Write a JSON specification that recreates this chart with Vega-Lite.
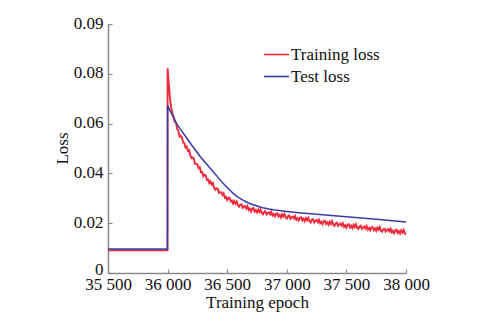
{
  "$schema": "https://vega.github.io/schema/vega-lite/v6.json",
  "width": 298,
  "height": 249,
  "autosize": {"type": "none"},
  "padding": {"left": 108, "top": 24, "right": 83, "bottom": 41},
  "background": "white",
  "config": {
    "view": {"stroke": null},
    "font": "Liberation Serif",
    "axis": {
      "grid": false,
      "domainColor": "#8a8a8a",
      "domainWidth": 1.5,
      "tickColor": "#8a8a8a",
      "tickWidth": 1.2,
      "labelFont": "Liberation Serif",
      "labelFontSize": 17,
      "labelColor": "#111111",
      "labelOverlap": false,
      "labelFlush": false,
      "titleFont": "Liberation Serif",
      "titleFontSize": 17,
      "titleFontWeight": "normal",
      "titleColor": "#111111"
    }
  },
  "datasets": {
    "train": [
      {"epoch": 35500, "loss": 0.0091},
      {"epoch": 35999, "loss": 0.0091},
      {"epoch": 36000, "loss": 0.0822},
      {"epoch": 36010, "loss": 0.0760},
      {"epoch": 36020, "loss": 0.0700},
      {"epoch": 36030, "loss": 0.0665},
      {"epoch": 36040, "loss": 0.0640},
      {"epoch": 36050, "loss": 0.0627},
      {"epoch": 36060, "loss": 0.0607},
      {"epoch": 36070, "loss": 0.0605},
      {"epoch": 36080, "loss": 0.0579},
      {"epoch": 36090, "loss": 0.0571},
      {"epoch": 36100, "loss": 0.0548},
      {"epoch": 36110, "loss": 0.0551},
      {"epoch": 36120, "loss": 0.0545},
      {"epoch": 36130, "loss": 0.0524},
      {"epoch": 36140, "loss": 0.0522},
      {"epoch": 36150, "loss": 0.0504},
      {"epoch": 36160, "loss": 0.0508},
      {"epoch": 36170, "loss": 0.0491},
      {"epoch": 36180, "loss": 0.0494},
      {"epoch": 36190, "loss": 0.0473},
      {"epoch": 36200, "loss": 0.0461},
      {"epoch": 36210, "loss": 0.0464},
      {"epoch": 36220, "loss": 0.0459},
      {"epoch": 36230, "loss": 0.0439},
      {"epoch": 36240, "loss": 0.0439},
      {"epoch": 36250, "loss": 0.0436},
      {"epoch": 36260, "loss": 0.0421},
      {"epoch": 36270, "loss": 0.0425},
      {"epoch": 36280, "loss": 0.0404},
      {"epoch": 36290, "loss": 0.0405},
      {"epoch": 36300, "loss": 0.0389},
      {"epoch": 36310, "loss": 0.0395},
      {"epoch": 36320, "loss": 0.0392},
      {"epoch": 36330, "loss": 0.0374},
      {"epoch": 36340, "loss": 0.0375},
      {"epoch": 36350, "loss": 0.0361},
      {"epoch": 36360, "loss": 0.0368},
      {"epoch": 36370, "loss": 0.0355},
      {"epoch": 36380, "loss": 0.0361},
      {"epoch": 36390, "loss": 0.0343},
      {"epoch": 36400, "loss": 0.0334},
      {"epoch": 36410, "loss": 0.0340},
      {"epoch": 36420, "loss": 0.0339},
      {"epoch": 36430, "loss": 0.0322},
      {"epoch": 36440, "loss": 0.0325},
      {"epoch": 36450, "loss": 0.0325},
      {"epoch": 36460, "loss": 0.0313},
      {"epoch": 36470, "loss": 0.0320},
      {"epoch": 36480, "loss": 0.0302},
      {"epoch": 36490, "loss": 0.0306},
      {"epoch": 36500, "loss": 0.0293},
      {"epoch": 36510, "loss": 0.0302},
      {"epoch": 36520, "loss": 0.0302},
      {"epoch": 36530, "loss": 0.0287},
      {"epoch": 36540, "loss": 0.0291},
      {"epoch": 36550, "loss": 0.0279},
      {"epoch": 36560, "loss": 0.0289},
      {"epoch": 36570, "loss": 0.0279},
      {"epoch": 36580, "loss": 0.0287},
      {"epoch": 36590, "loss": 0.0272},
      {"epoch": 36600, "loss": 0.0266},
      {"epoch": 36610, "loss": 0.0275},
      {"epoch": 36620, "loss": 0.0276},
      {"epoch": 36630, "loss": 0.0262},
      {"epoch": 36640, "loss": 0.0267},
      {"epoch": 36650, "loss": 0.0269},
      {"epoch": 36660, "loss": 0.0259},
      {"epoch": 36670, "loss": 0.0269},
      {"epoch": 36680, "loss": 0.0253},
      {"epoch": 36690, "loss": 0.0259},
      {"epoch": 36700, "loss": 0.0248},
      {"epoch": 36710, "loss": 0.0259},
      {"epoch": 36720, "loss": 0.0261},
      {"epoch": 36730, "loss": 0.0247},
      {"epoch": 36740, "loss": 0.0253},
      {"epoch": 36750, "loss": 0.0243},
      {"epoch": 36760, "loss": 0.0255},
      {"epoch": 36770, "loss": 0.0245},
      {"epoch": 36780, "loss": 0.0255},
      {"epoch": 36790, "loss": 0.0241},
      {"epoch": 36800, "loss": 0.0236},
      {"epoch": 36810, "loss": 0.0246},
      {"epoch": 36820, "loss": 0.0248},
      {"epoch": 36830, "loss": 0.0235},
      {"epoch": 36840, "loss": 0.0241},
      {"epoch": 36850, "loss": 0.0244},
      {"epoch": 36860, "loss": 0.0236},
      {"epoch": 36870, "loss": 0.0246},
      {"epoch": 36880, "loss": 0.0231},
      {"epoch": 36890, "loss": 0.0237},
      {"epoch": 36900, "loss": 0.0227},
      {"epoch": 36910, "loss": 0.0238},
      {"epoch": 36920, "loss": 0.0240},
      {"epoch": 36930, "loss": 0.0227},
      {"epoch": 36940, "loss": 0.0233},
      {"epoch": 36950, "loss": 0.0223},
      {"epoch": 36960, "loss": 0.0236},
      {"epoch": 36970, "loss": 0.0227},
      {"epoch": 36980, "loss": 0.0237},
      {"epoch": 36990, "loss": 0.0223},
      {"epoch": 37000, "loss": 0.0218},
      {"epoch": 37010, "loss": 0.0228},
      {"epoch": 37020, "loss": 0.0231},
      {"epoch": 37030, "loss": 0.0218},
      {"epoch": 37040, "loss": 0.0224},
      {"epoch": 37050, "loss": 0.0227},
      {"epoch": 37060, "loss": 0.0219},
      {"epoch": 37070, "loss": 0.0229},
      {"epoch": 37080, "loss": 0.0214},
      {"epoch": 37090, "loss": 0.0220},
      {"epoch": 37100, "loss": 0.0211},
      {"epoch": 37110, "loss": 0.0222},
      {"epoch": 37120, "loss": 0.0224},
      {"epoch": 37130, "loss": 0.0211},
      {"epoch": 37140, "loss": 0.0218},
      {"epoch": 37150, "loss": 0.0208},
      {"epoch": 37160, "loss": 0.0220},
      {"epoch": 37170, "loss": 0.0212},
      {"epoch": 37180, "loss": 0.0222},
      {"epoch": 37190, "loss": 0.0208},
      {"epoch": 37200, "loss": 0.0203},
      {"epoch": 37210, "loss": 0.0214},
      {"epoch": 37220, "loss": 0.0216},
      {"epoch": 37230, "loss": 0.0203},
      {"epoch": 37240, "loss": 0.0210},
      {"epoch": 37250, "loss": 0.0213},
      {"epoch": 37260, "loss": 0.0204},
      {"epoch": 37270, "loss": 0.0214},
      {"epoch": 37280, "loss": 0.0200},
      {"epoch": 37290, "loss": 0.0206},
      {"epoch": 37300, "loss": 0.0196},
      {"epoch": 37310, "loss": 0.0208},
      {"epoch": 37320, "loss": 0.0210},
      {"epoch": 37330, "loss": 0.0197},
      {"epoch": 37340, "loss": 0.0203},
      {"epoch": 37350, "loss": 0.0194},
      {"epoch": 37360, "loss": 0.0206},
      {"epoch": 37370, "loss": 0.0197},
      {"epoch": 37380, "loss": 0.0208},
      {"epoch": 37390, "loss": 0.0194},
      {"epoch": 37400, "loss": 0.0189},
      {"epoch": 37410, "loss": 0.0199},
      {"epoch": 37420, "loss": 0.0202},
      {"epoch": 37430, "loss": 0.0189},
      {"epoch": 37440, "loss": 0.0195},
      {"epoch": 37450, "loss": 0.0199},
      {"epoch": 37460, "loss": 0.0190},
      {"epoch": 37470, "loss": 0.0200},
      {"epoch": 37480, "loss": 0.0185},
      {"epoch": 37490, "loss": 0.0192},
      {"epoch": 37500, "loss": 0.0182},
      {"epoch": 37510, "loss": 0.0193},
      {"epoch": 37520, "loss": 0.0196},
      {"epoch": 37530, "loss": 0.0183},
      {"epoch": 37540, "loss": 0.0190},
      {"epoch": 37550, "loss": 0.0180},
      {"epoch": 37560, "loss": 0.0193},
      {"epoch": 37570, "loss": 0.0184},
      {"epoch": 37580, "loss": 0.0195},
      {"epoch": 37590, "loss": 0.0181},
      {"epoch": 37600, "loss": 0.0177},
      {"epoch": 37610, "loss": 0.0187},
      {"epoch": 37620, "loss": 0.0190},
      {"epoch": 37630, "loss": 0.0177},
      {"epoch": 37640, "loss": 0.0183},
      {"epoch": 37650, "loss": 0.0187},
      {"epoch": 37660, "loss": 0.0178},
      {"epoch": 37670, "loss": 0.0189},
      {"epoch": 37680, "loss": 0.0174},
      {"epoch": 37690, "loss": 0.0181},
      {"epoch": 37700, "loss": 0.0171},
      {"epoch": 37710, "loss": 0.0183},
      {"epoch": 37720, "loss": 0.0185},
      {"epoch": 37730, "loss": 0.0172},
      {"epoch": 37740, "loss": 0.0179},
      {"epoch": 37750, "loss": 0.0169},
      {"epoch": 37760, "loss": 0.0182},
      {"epoch": 37770, "loss": 0.0173},
      {"epoch": 37780, "loss": 0.0184},
      {"epoch": 37790, "loss": 0.0170},
      {"epoch": 37800, "loss": 0.0166},
      {"epoch": 37810, "loss": 0.0176},
      {"epoch": 37820, "loss": 0.0178},
      {"epoch": 37830, "loss": 0.0166},
      {"epoch": 37840, "loss": 0.0172},
      {"epoch": 37850, "loss": 0.0176},
      {"epoch": 37860, "loss": 0.0167},
      {"epoch": 37870, "loss": 0.0178},
      {"epoch": 37880, "loss": 0.0163},
      {"epoch": 37890, "loss": 0.0170},
      {"epoch": 37900, "loss": 0.0160},
      {"epoch": 37910, "loss": 0.0171},
      {"epoch": 37920, "loss": 0.0174},
      {"epoch": 37930, "loss": 0.0161},
      {"epoch": 37940, "loss": 0.0168},
      {"epoch": 37950, "loss": 0.0158},
      {"epoch": 37960, "loss": 0.0171},
      {"epoch": 37970, "loss": 0.0162},
      {"epoch": 37980, "loss": 0.0173},
      {"epoch": 37990, "loss": 0.0159},
      {"epoch": 38000, "loss": 0.0155}
    ],
    "test": [
      {"epoch": 35500, "loss": 0.0096},
      {"epoch": 35999, "loss": 0.0096},
      {"epoch": 36000, "loss": 0.0672},
      {"epoch": 36025, "loss": 0.0648},
      {"epoch": 36050, "loss": 0.0625},
      {"epoch": 36075, "loss": 0.0600},
      {"epoch": 36100, "loss": 0.0583},
      {"epoch": 36125, "loss": 0.0566},
      {"epoch": 36150, "loss": 0.0549},
      {"epoch": 36175, "loss": 0.0532},
      {"epoch": 36200, "loss": 0.0515},
      {"epoch": 36225, "loss": 0.0499},
      {"epoch": 36250, "loss": 0.0483},
      {"epoch": 36275, "loss": 0.0467},
      {"epoch": 36300, "loss": 0.0453},
      {"epoch": 36325, "loss": 0.0439},
      {"epoch": 36350, "loss": 0.0425},
      {"epoch": 36375, "loss": 0.0411},
      {"epoch": 36400, "loss": 0.0397},
      {"epoch": 36425, "loss": 0.0383},
      {"epoch": 36450, "loss": 0.0369},
      {"epoch": 36475, "loss": 0.0355},
      {"epoch": 36500, "loss": 0.0343},
      {"epoch": 36525, "loss": 0.0331},
      {"epoch": 36550, "loss": 0.0320},
      {"epoch": 36575, "loss": 0.0310},
      {"epoch": 36600, "loss": 0.0302},
      {"epoch": 36625, "loss": 0.0295},
      {"epoch": 36650, "loss": 0.0288},
      {"epoch": 36675, "loss": 0.0282},
      {"epoch": 36700, "loss": 0.0277},
      {"epoch": 36725, "loss": 0.0273},
      {"epoch": 36750, "loss": 0.0269},
      {"epoch": 36775, "loss": 0.0265},
      {"epoch": 36800, "loss": 0.0262},
      {"epoch": 36850, "loss": 0.0257},
      {"epoch": 36900, "loss": 0.0253},
      {"epoch": 36950, "loss": 0.0250},
      {"epoch": 37000, "loss": 0.0247},
      {"epoch": 37100, "loss": 0.0242},
      {"epoch": 37250, "loss": 0.0236},
      {"epoch": 37500, "loss": 0.0226},
      {"epoch": 37750, "loss": 0.0216},
      {"epoch": 38000, "loss": 0.0205}
    ]
  },
  "encoding": {
    "x": {
      "field": "epoch",
      "type": "quantitative",
      "scale": {"domain": [35500, 38000], "nice": false, "zero": false},
      "axis": {
        "title": "Training epoch",
        "values": [35500, 36000, 36500, 37000, 37500, 38000],
        "labelExpr": "replace(format(datum.value, ','), ',', ' ')",
        "tickSize": -4,
        "labelPadding": 7,
        "titleY": 34,
        "titleBaseline": "alphabetic"
      }
    },
    "y": {
      "field": "loss",
      "type": "quantitative",
      "scale": {"domain": [0, 0.1], "nice": false},
      "axis": {
        "title": "Loss",
        "values": [0, 0.02, 0.04, 0.06, 0.08, 0.1],
        "labelExpr": "datum.value == 0 ? '0' : (datum.value > 0.095 ? '0.09' : format(datum.value, '.2f'))",
        "tickSize": -4,
        "labelPadding": 9,
        "labelOffset": {"condition": {"test": "datum.value == 0", "value": -4}, "value": -1},
        "titleX": -46,
        "titleY": 124,
        "titleAlign": "center",
        "titleBaseline": "middle",
        "titleAngle": -90
      }
    },
    "color": {
      "field": "series",
      "type": "nominal",
      "scale": {"domain": ["Training loss", "Test loss"], "range": ["#f0283c", "#3a3aa6"]},
      "legend": {
        "title": null,
        "orient": "none",
        "legendX": 155,
        "legendY": 17,
        "symbolType": "stroke",
        "symbolSize": 625,
        "symbolStrokeWidth": 1.6,
        "labelFont": "Liberation Serif",
        "labelFontSize": 17,
        "labelColor": "#111111",
        "labelOffset": 1,
        "rowPadding": -6
      }
    }
  },
  "layer": [
    {
      "data": {"name": "train"},
      "transform": [{"calculate": "'Training loss'", "as": "series"}],
      "mark": {"type": "line", "strokeWidth": 1.9}
    },
    {
      "data": {"name": "test"},
      "transform": [{"calculate": "'Test loss'", "as": "series"}],
      "mark": {"type": "line", "strokeWidth": 1.5}
    }
  ]
}
